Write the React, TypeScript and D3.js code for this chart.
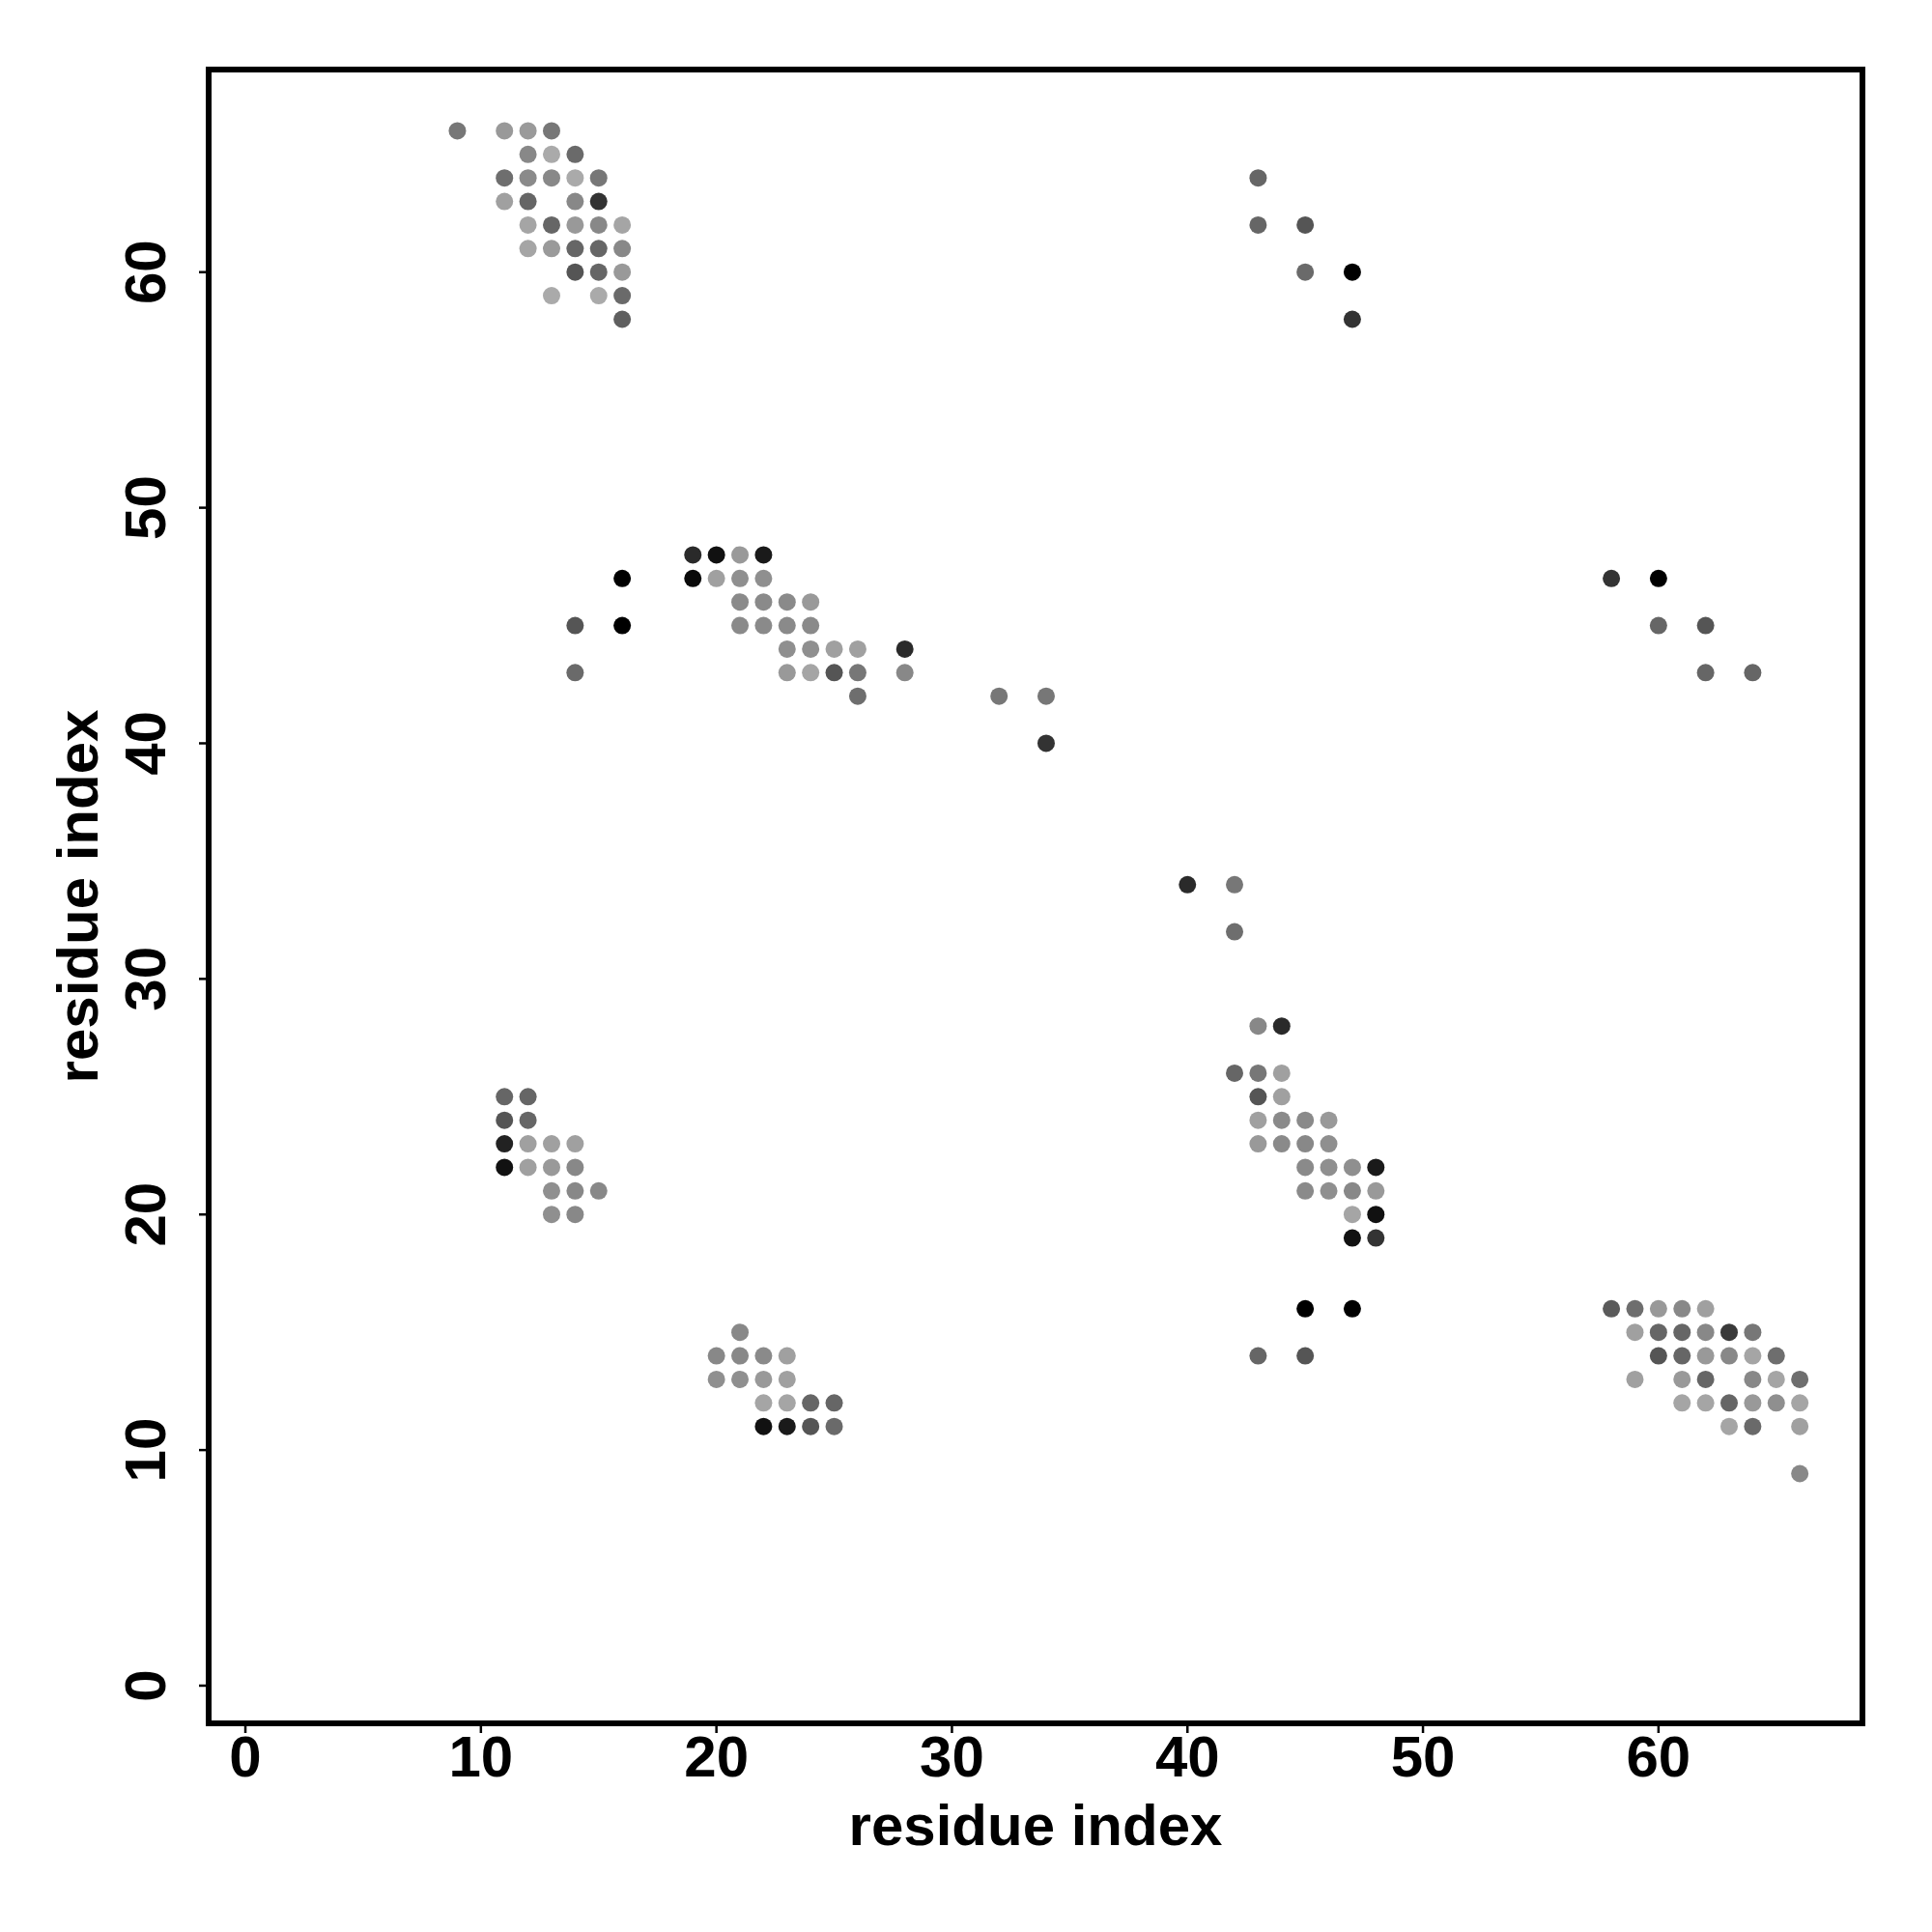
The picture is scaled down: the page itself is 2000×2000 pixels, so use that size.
import React from "react";
import * as d3 from "d3";

// [residue i, residue j, gray level 0-255]
const clusterTopLeft: [number, number, number][] = [
  [9, 66, 119], [11, 66, 153], [12, 66, 154], [13, 66, 119],
  [12, 65, 136], [13, 65, 170], [14, 65, 106],
  [11, 64, 110], [12, 64, 138], [13, 64, 136], [14, 64, 170], [15, 64, 119],
  [11, 63, 160], [12, 63, 102], [14, 63, 136], [15, 63, 51],
  [12, 62, 165], [13, 62, 102], [14, 62, 153], [15, 62, 136], [16, 62, 165],
  [12, 61, 165], [13, 61, 154], [14, 61, 102], [15, 61, 102], [16, 61, 136],
  [14, 60, 85], [15, 60, 102], [16, 60, 153],
  [13, 59, 170], [15, 59, 170], [16, 59, 106],
  [16, 58, 95],
];

const clusterTopRight: [number, number, number][] = [
  [43, 64, 102], [43, 62, 102], [45, 62, 85], [45, 60, 106], [47, 60, 0], [47, 58, 51],
];

const clusterMiddle: [number, number, number][] = [
  [19, 48, 42], [20, 48, 17], [21, 48, 153], [22, 48, 26],
  [16, 47, 0], [19, 47, 10], [20, 47, 160], [21, 47, 143], [22, 47, 143],
  [21, 46, 138], [22, 46, 138], [23, 46, 138], [24, 46, 153],
  [14, 45, 85], [16, 45, 0], [21, 45, 138], [22, 45, 138], [23, 45, 138], [24, 45, 138],
  [23, 44, 143], [24, 44, 143], [25, 44, 160], [26, 44, 160], [28, 44, 42],
  [14, 43, 106], [23, 43, 153], [24, 43, 165], [25, 43, 85], [26, 43, 119], [28, 43, 136],
  [26, 42, 110],
  [32, 42, 119], [34, 42, 119], [34, 40, 51],
];

const clusterMidRight: [number, number, number][] = [
  [58, 47, 51], [60, 47, 0], [60, 45, 102], [62, 45, 85], [62, 43, 102], [64, 43, 102],
];

const clusterCenter: [number, number, number][] = [
  [40, 34, 42], [42, 34, 119], [42, 32, 110],
  [43, 28, 136], [44, 28, 42],
  [42, 26, 102], [43, 26, 119], [44, 26, 160],
  [43, 25, 85], [44, 25, 160],
  [43, 24, 160], [44, 24, 138], [45, 24, 138], [46, 24, 153],
  [43, 23, 153], [44, 23, 138], [45, 23, 136], [46, 23, 143],
  [45, 22, 138], [46, 22, 143], [47, 22, 143], [48, 22, 26],
  [45, 21, 138], [46, 21, 143], [47, 21, 136], [48, 21, 153],
  [47, 20, 165], [48, 20, 17],
  [47, 19, 17], [48, 19, 51],
  [45, 16, 0], [47, 16, 0],
  [43, 14, 102], [45, 14, 85],
];

const clusterLowLeft: [number, number, number][] = [
  [11, 25, 102], [12, 25, 102],
  [11, 24, 85], [12, 24, 102],
  [11, 23, 34], [12, 23, 160], [13, 23, 160], [14, 23, 160],
  [11, 22, 17], [12, 22, 160], [13, 22, 153], [14, 22, 136],
  [13, 21, 143], [14, 21, 136], [15, 21, 136],
  [13, 20, 143], [14, 20, 136],
];

const clusterBottom: [number, number, number][] = [
  [21, 15, 136],
  [20, 14, 136], [21, 14, 136], [22, 14, 138], [23, 14, 160],
  [20, 13, 143], [21, 13, 143], [22, 13, 153], [23, 13, 160],
  [22, 12, 165], [23, 12, 165], [24, 12, 102], [25, 12, 102],
  [22, 11, 17], [23, 11, 26], [24, 11, 85], [25, 11, 106],
];

const clusterBottomRight: [number, number, number][] = [
  [58, 16, 90], [59, 16, 110], [60, 16, 153], [61, 16, 136], [62, 16, 160],
  [59, 15, 160], [60, 15, 102], [61, 15, 102], [62, 15, 136], [63, 15, 58], [64, 15, 119],
  [60, 14, 85], [61, 14, 102], [62, 14, 153], [63, 14, 136], [64, 14, 165], [65, 14, 110],
  [59, 13, 160], [61, 13, 153], [62, 13, 102], [64, 13, 136], [65, 13, 165], [66, 13, 110],
  [61, 12, 165], [62, 12, 165], [63, 12, 102], [64, 12, 153], [65, 12, 143], [66, 12, 165],
  [63, 11, 165], [64, 11, 106], [66, 11, 160],
  [66, 9, 136],
];

const xTicks = [0, 10, 20, 30, 40, 50, 60];
const yTicks = [0, 10, 20, 30, 40, 50, 60];
const xLabel = "residue index";
const yLabel = "residue index";

const W = 2000;
const H = 2000;
const plot = { left: 216, right: 1928, top: 72, bottom: 1784 };

export default function App() {
  const x = d3.scaleLinear().domain([-1.56, 68.66]).range([plot.left, plot.right]);
  const y = d3.scaleLinear().domain([-1.6, 68.6]).range([plot.bottom, plot.top]);
  const points = [
    ...clusterTopLeft,
    ...clusterTopRight,
    ...clusterMiddle,
    ...clusterMidRight,
    ...clusterCenter,
    ...clusterLowLeft,
    ...clusterBottom,
    ...clusterBottomRight,
  ];
  const font = "'Liberation Sans', Arial, Helvetica, sans-serif";
  const cx = (plot.left + plot.right) / 2;
  const cy = (plot.top + plot.bottom) / 2;
  return (
    <div style={{ position: "absolute", left: 0, top: 0 }}>
      <svg width={W} height={H} viewBox={`0 0 ${W} ${H}`} style={{ display: "block", background: "#fff" }}>
        <rect x={0} y={0} width={W} height={H} fill="#fff" />
        {points.map(([px, py, g], i) => (
          <circle key={i} cx={x(px)} cy={y(py)} r={9} fill={d3.rgb(g, g, g).formatHex()} />
        ))}
        <rect
          x={plot.left}
          y={plot.top}
          width={plot.right - plot.left}
          height={plot.bottom - plot.top}
          fill="none"
          stroke="#000"
          strokeWidth={6}
        />
        {xTicks.map((t) => (
          <g key={"x" + t}>
            <line x1={x(t)} x2={x(t)} y1={plot.bottom + 3} y2={plot.bottom + 10} stroke="#000" strokeWidth={2.5} />
            <text
              x={x(t)}
              y={1839}
              textAnchor="middle"
              fontFamily={font}
              fontWeight="bold"
              fontSize={60}
              fill="#000"
            >
              {t}
            </text>
          </g>
        ))}
        {yTicks.map((t) => (
          <g key={"y" + t}>
            <line x1={plot.left - 10} x2={plot.left - 3} y1={y(t)} y2={y(t)} stroke="#000" strokeWidth={2.5} />
            <text
              transform={`translate(171, ${y(t)}) rotate(-90)`}
              textAnchor="middle"
              fontFamily={font}
              fontWeight="bold"
              fontSize={60}
              fill="#000"
            >
              {t}
            </text>
          </g>
        ))}
        <text x={cx} y={1910} textAnchor="middle" fontFamily={font} fontWeight="bold" fontSize={60} fill="#000">
          {xLabel}
        </text>
        <text
          transform={`translate(101, ${cy}) rotate(-90)`}
          textAnchor="middle"
          fontFamily={font}
          fontWeight="bold"
          fontSize={60}
          fill="#000"
        >
          {yLabel}
        </text>
      </svg>
    </div>
  );
}
